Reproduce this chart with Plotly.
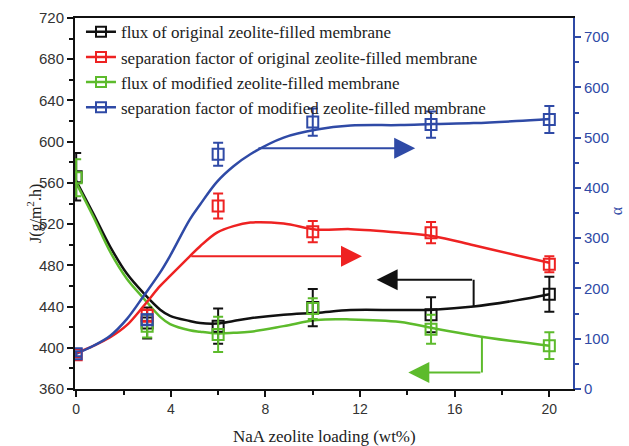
import plotly.graph_objects as go

# measured data points
x_pts = [0, 3, 6, 10, 15, 20]
flux_orig = [566, 424, 421, 439, 432, 452]
flux_orig_err = [23, 15, 17, 18, 17, 17]
flux_mod = [565, 421, 413, 438, 418, 402]
flux_mod_err = [18, 11, 17, 10, 14, 13]
sep_orig = [68, 146, 364, 313, 311, 248]
sep_orig_err = [5, 12, 25, 21, 21, 16]
sep_mod = [70, 138, 467, 531, 526, 536]
sep_mod_err = [5, 10, 23, 27, 26, 27]

# fitted curves
fit_x = [0, 0.73, 1.44, 2.14, 2.85, 3.55, 3.97, 4.8, 5.24, 5.95, 6.65, 7.36, 8.77, 10.17, 11.6, 13.7, 15.1, 16.8, 18.6, 20]
flux_orig_fit = [562, 530, 498, 472, 453, 437, 431, 426, 424, 423.5, 426, 428.6, 432, 434, 436.6, 436.6, 437, 440, 446, 452]
flux_mod_fit = [560, 527, 493, 467, 448, 430, 423, 417, 415.6, 414, 414.5, 415.6, 421, 427, 427.5, 425, 418.9, 412, 406, 402]
sep_orig_fit = [72, 86, 103, 127, 165, 205, 225, 264, 284, 311, 324, 331, 329, 317, 318, 311, 304, 286, 266, 251]
sep_mod_fit = [70, 86, 106, 139, 185, 232, 265, 337, 367, 412, 443, 467, 500, 516, 524, 525, 527, 529, 533, 537]

names = ["flux of original zeolite-filled membrane",
         "separation factor of original zeolite-filled membrane",
         "flux of modified zeolite-filled membrane",
         "separation factor of modified zeolite-filled membrane"]

BLACK = "#111111"
RED = "#ee2222"
GREEN = "#5dbb2c"
BLUE = "#2f4aa6"

fig = go.Figure()

series = [
    (flux_orig, flux_orig_err, flux_orig_fit, BLACK, "y"),
    (sep_orig, sep_orig_err, sep_orig_fit, RED, "y2"),
    (flux_mod, flux_mod_err, flux_mod_fit, GREEN, "y"),
    (sep_mod, sep_mod_err, sep_mod_fit, BLUE, "y2"),
]

# curves
for vals, err, fit, col, ax in series:
    fig.add_trace(go.Scatter(x=fit_x, y=fit, mode="lines", yaxis=ax,
                             line=dict(color=col, width=2.5, shape="spline", smoothing=1.0),
                             showlegend=False, hoverinfo="skip"))
# points with error bars
for vals, err, fit, col, ax in series:
    fig.add_trace(go.Scatter(x=x_pts, y=vals, mode="markers", yaxis=ax,
                             marker=dict(symbol="square-open", size=11, color=col, line=dict(width=2, color=col)),
                             error_y=dict(type="data", array=err, visible=True, color=col, thickness=2, width=5),
                             showlegend=False))
# legend entries
for (vals, err, fit, col, ax), nm in zip(series, names):
    fig.add_trace(go.Scatter(x=[None], y=[None], mode="lines+markers", name=nm, yaxis=ax,
                             line=dict(color=col, width=2.5),
                             marker=dict(symbol="square-open", size=10, color=col, line=dict(width=2, color=col))))

# arrows
arrow_common = dict(text="", showarrow=True, arrowhead=2, arrowsize=2.1, arrowwidth=2, standoff=0, startstandoff=0)
fig.add_annotation(x=14.33, y=479, ax=7.64, ay=479, xref="x", yref="y2", axref="x", ayref="y2",
                   arrowcolor=BLUE, **arrow_common)
fig.add_annotation(x=12.08, y=264, ax=4.8, ay=264, xref="x", yref="y2", axref="x", ayref="y2",
                   arrowcolor=RED, **arrow_common)
fig.add_shape(type="line", x0=16.8, x1=16.8, y0=440, y1=466, xref="x", yref="y",
              line=dict(color=BLACK, width=2))
fig.add_annotation(x=12.7, y=466, ax=16.8, ay=466, xref="x", yref="y", axref="x", ayref="y",
                   arrowcolor=BLACK, **arrow_common)
fig.add_shape(type="line", x0=17.15, x1=17.15, y0=410, y1=376, xref="x", yref="y",
              line=dict(color=GREEN, width=2))
fig.add_annotation(x=14.04, y=376, ax=17.15, ay=376, xref="x", yref="y", axref="x", ayref="y",
                   arrowcolor=GREEN, **arrow_common)

# axis titles placed as annotations
fig.add_annotation(text="α", xref="paper", yref="paper", x=1.11, y=0.48, showarrow=False,
                   textangle=-90, font=dict(family="Liberation Serif", size=16, color=BLUE))
fig.add_annotation(text="J(g/m<sup>2</sup>.h)", xref="paper", yref="paper", x=-0.105, y=0.472,
                   showarrow=False, textangle=-90,
                   font=dict(family="Liberation Serif", size=16, color="#222222"))
fig.add_annotation(text="NaA zeolite loading (wt%)", xref="paper", yref="paper", x=0.5, y=-0.128,
                   showarrow=False, yanchor="middle",
                   font=dict(family="Liberation Serif", size=17, color="#222222"))

fig.update_layout(
    width=629, height=446,
    margin=dict(l=75, r=56, t=18, b=57),
    paper_bgcolor="white", plot_bgcolor="white",
    showlegend=True,
    legend=dict(x=0.012, y=1.01, xanchor="left", yanchor="top", bgcolor="rgba(0,0,0,0)",
                font=dict(family="Liberation Serif", size=17, color="#222222"),
                tracegroupgap=0, itemwidth=30),
    xaxis=dict(range=[-0.05, 21.0], tickvals=[0, 4, 8, 12, 16, 20], showgrid=False, zeroline=False,
               automargin=False,
               showline=True, linecolor=BLACK, linewidth=2, mirror=True,
               ticks="outside", ticklen=6, tickwidth=2, tickcolor=BLACK,
               minor=dict(dtick=2, tick0=0, ticks="outside", ticklen=4, tickwidth=2, tickcolor=BLACK),
               tickfont=dict(family="Liberation Sans", size=14, color="#333333")),
    yaxis=dict(range=[360, 720], dtick=40, tick0=360, showgrid=False, zeroline=False,
               automargin=False,
               showline=True, linecolor=BLACK, linewidth=2,
               ticks="outside", ticklen=6, tickwidth=2, tickcolor=BLACK,
               minor=dict(dtick=20, tick0=360, ticks="outside", ticklen=4, tickwidth=2, tickcolor=BLACK),
               tickfont=dict(family="Liberation Sans", size=15, color="#333333")),
    yaxis2=dict(range=[0, 738], dtick=100, tick0=0, overlaying="y", side="right",
                automargin=False,
                showgrid=False, zeroline=False, showline=True, linecolor=BLUE, linewidth=2,
                ticks="outside", ticklen=6, tickwidth=2, tickcolor=BLUE,
                minor=dict(dtick=50, tick0=0, ticks="outside", ticklen=4, tickwidth=2, tickcolor=BLUE),
                tickfont=dict(family="Liberation Sans", size=15, color=BLUE)),
)

fig.write_html("out.html", config={"displayModeBar": False},
               post_script="document.body.style.margin='0px';document.body.style.overflow='hidden';")
